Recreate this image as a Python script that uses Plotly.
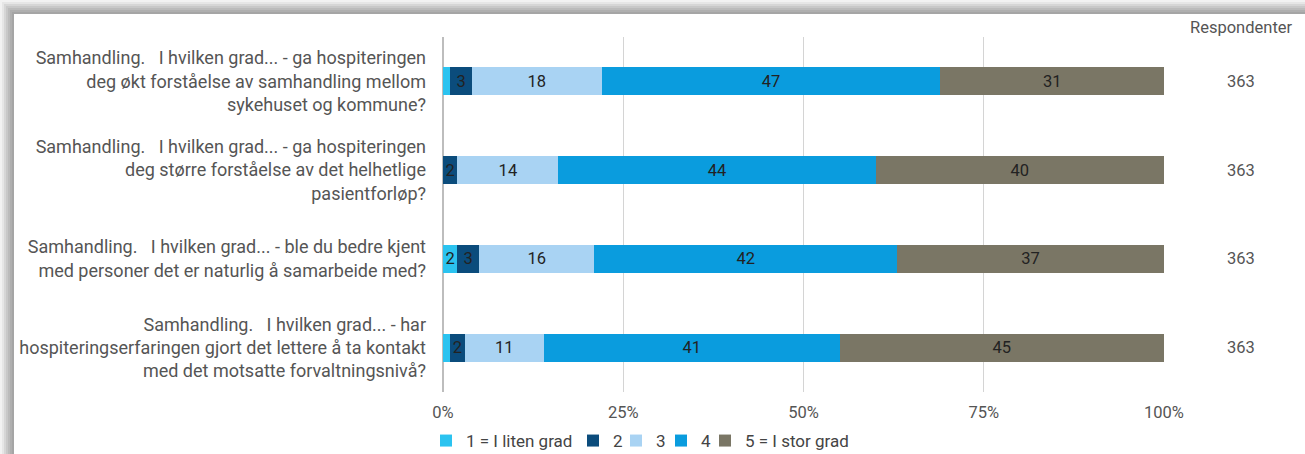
import plotly.graph_objects as go

questions = [
    "Samhandling.\u00a0\u00a0\u00a0I hvilken grad... - ga hospiteringen<br>deg økt forståelse av samhandling mellom<br>sykehuset og kommune?",
    "Samhandling.\u00a0\u00a0\u00a0I hvilken grad... - ga hospiteringen<br>deg større forståelse av det helhetlige<br>pasientforløp?",
    "Samhandling.\u00a0\u00a0\u00a0I hvilken grad... - ble du bedre kjent<br>med personer det er naturlig å samarbeide med?",
    "Samhandling.\u00a0\u00a0\u00a0I hvilken grad... - har<br>hospiteringserfaringen gjort det lettere å ta kontakt<br>med det motsatte forvaltningsnivå?",
]
series_names = ["1 = I liten grad", "2", "3", "4", "5 = I stor grad"]
values = {
    "1 = I liten grad": [1, 0, 2, 1],
    "2": [3, 2, 3, 2],
    "3": [18, 14, 16, 11],
    "4": [47, 44, 42, 41],
    "5 = I stor grad": [31, 40, 37, 45],
}
respondents = [363, 363, 363, 363]
colors = ["#2BC3F0", "#0B4C7C", "#A9D3F3", "#0A9CDE", "#7A7665"]
xticks = [0, 0.25, 0.5, 0.75, 1.0]

W, H = 1305, 454
ML, MR, MT, MB = 443, 141, 37, 62
PW, PH = W - ML - MR, H - MT - MB

def px_x(px):
    return (px - ML) / PW

def px_y(py):
    return (H - MB - py) / PH

# legend symbol left edges (px) for each series
legend_px = [441, 588, 631, 676, 720]

totals = [sum(values[s][i] for s in series_names) for i in range(len(questions))]
ids = list(range(len(questions)))

fig = go.Figure()
legend_layouts = {}
for k, (s, c) in enumerate(zip(series_names, colors)):
    vals = values[s]
    fracs = [v / t for v, t in zip(vals, totals)]
    lname = "legend" if k == 0 else f"legend{k + 1}"
    fig.add_trace(go.Bar(
        y=ids, x=fracs, orientation="h", name=s, legend=lname,
        marker=dict(color=c, line=dict(width=0)),
        text=[str(v) if v >= 2 else "" for v in vals],
        textposition="inside", insidetextanchor="middle", textangle=0,
        insidetextfont=dict(family="Roboto", size=16.5, color="#222222"),
        hoverinfo="skip",
    ))
    legend_layouts[lname] = dict(
        orientation="h", x=px_x(legend_px[k] - 15), xanchor="left",
        y=px_y(441), yanchor="middle", bgcolor="rgba(0,0,0,0)",
        font=dict(family="Roboto", size=17, color="#444444"),
        itemclick=False)

# Respondenter column
fig.add_annotation(x=px_x(1241), y=px_y(27), xref="paper", yref="paper",
                   xanchor="center", yanchor="middle",
                   text="Respondenter", showarrow=False,
                   font=dict(family="Roboto", size=16.5, color="#555555"))
for i, r in enumerate(respondents):
    fig.add_annotation(x=px_x(1241), y=i, xref="paper", yref="y",
                       xanchor="center", yanchor="middle",
                       text=str(r), showarrow=False,
                       font=dict(family="Roboto", size=16.5, color="#555555"))

# shadow frame (top and left)
shapes = []
steps = [("#f2f2f2", 0), ("#e6e6e6", 2), ("#d6d6d6", 4), ("#c8c8c8", 6),
         ("#bbbbbb", 8), ("#afafaf", 10), ("#a5a5a5", 12)]
for col, off in steps:
    shapes.append(dict(type="rect", xref="paper", yref="paper",
                       x0=px_x(off), x1=px_x(off + 2), y0=px_y(H), y1=px_y(off),
                       fillcolor=col, line=dict(width=0), layer="above"))
    shapes.append(dict(type="rect", xref="paper", yref="paper",
                       x0=px_x(off), x1=px_x(W), y0=px_y(off + 2), y1=px_y(off),
                       fillcolor=col, line=dict(width=0), layer="above"))

fig.update_layout(
    width=W, height=H,
    margin=dict(l=ML, r=MR, t=MT, b=MB, autoexpand=False),
    barmode="stack", bargap=0.685,
    paper_bgcolor="white", plot_bgcolor="white",
    font=dict(family="Roboto", color="#555555"),
    uniformtext=dict(minsize=16.5, mode="show"),
    shapes=shapes,
    showlegend=True,
    xaxis=dict(range=[0, 1], tickvals=xticks, tickformat=".0%",
               showgrid=True, gridcolor="#d4d4d4", gridwidth=1,
               zeroline=True, zerolinecolor="#bdbdbd", zerolinewidth=1.5,
               showline=False, ticks="", ticklabelstandoff=8,
               tickfont=dict(family="Roboto", size=16.5, color="#555555"), fixedrange=True),
    yaxis=dict(tickvals=ids, ticktext=questions, autorange="reversed",
               range=[3.5, -0.5], showgrid=False, zeroline=False, ticks="",
               ticklabelstandoff=16,
               tickfont=dict(family="Roboto", size=18, color="#555555"), fixedrange=True),
    **legend_layouts,
)

fig.write_html("out.html", config={"displayModeBar": False},
               post_script="document.body.style.margin='0';document.body.style.overflow='hidden';")
